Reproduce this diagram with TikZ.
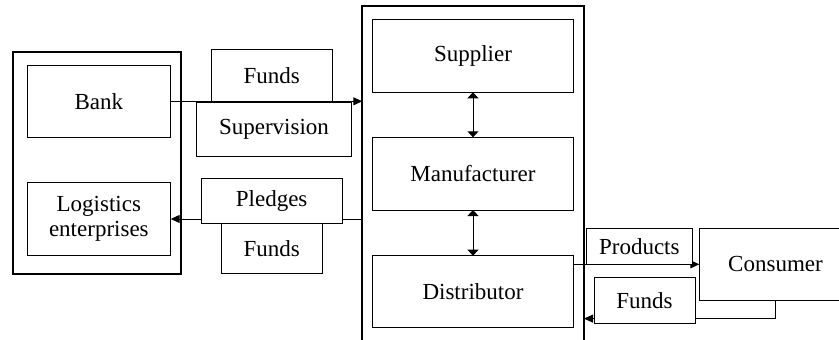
\documentclass[tikz,border=0pt]{standalone}
\usepackage{fontspec}
\setmainfont{Liberation Serif}
\usetikzlibrary{arrows.meta}
\begin{document}
\begin{tikzpicture}[x=1pt,y=-1pt,
  box/.style={draw, line width=1pt, fill=white, inner sep=0pt, outer sep=0pt,
    align=center, font=\fontsize{23}{25}\selectfont},
  frame/.style={draw, line width=2pt, inner sep=0pt, outer sep=0pt},
  link/.style={line width=1pt},
  harrow/.style={-{Triangle[length=9pt,width=8pt]}},
  vdouble/.style={{Triangle[length=6pt,width=11pt]}-{Triangle[length=6pt,width=11pt]}}
]
\useasboundingbox (0,0) rectangle (839,340);
\clip (0,0) rectangle (839,340);

% grouping frames
\node[frame, minimum width=168.3, minimum height=222.3] (left) at (96.85,162.85) {};
\node[frame, minimum width=221.7, minimum height=344] (mid) at (473.15,178) {};

% connectors (drawn under the boxes)
\node[box, draw=none, fill=none, minimum width=143.7, minimum height=72] (bankpos) at (98.85,101.3) {};
\node[box, draw=none, fill=none, minimum width=143.7, minimum height=72.6] (logpos) at (98.85,219) {};
\node[box, draw=none, fill=none, minimum width=201.4, minimum height=72] (distpos) at (473,291.7) {};
\node[box, draw=none, fill=none, minimum width=152.4, minimum height=72] (conspos) at (775.5,264.3) {};
\coordinate (fundsin) at (584,318.6);

\draw[link, harrow] (bankpos.east) -- (bankpos.east -| mid.west);
\draw[link, harrow] (logpos.east -| mid.west) -- (logpos.east);
\draw[link, harrow] (conspos.west -| distpos.east) -- (conspos.west);
\draw[link, harrow] (conspos.south) |- (fundsin);

% left group
\node[box, minimum width=143.7, minimum height=72] (bank) at (98.85,101.3) {Bank};
\node[box, minimum width=143.7, minimum height=72.6] (logistics) at (98.85,219) {Logistics\\enterprises};

% flow labels between the groups
\node[box, minimum width=121.3, minimum height=52] (fundsA) at (271.65,75.3) {Funds};
\node[box, minimum width=154.6, minimum height=54] (supervision) at (274,129) {Supervision};
\node[box, minimum width=141.3, minimum height=45] (pledges) at (271.65,200.8) {Pledges};
\node[box, minimum width=101.3, minimum height=50] (fundsB) at (271.65,248.3) {Funds};

% supply chain group
\node[box, minimum width=201.4, minimum height=72.6] (supplier) at (473,56) {Supplier};
\node[box, minimum width=201.4, minimum height=72.7] (manufacturer) at (473,173.65) {Manufacturer};
\node[box, minimum width=201.4, minimum height=72] (distributor) at (473,291.7) {Distributor};

\draw[link, vdouble] (supplier.south) -- (manufacturer.north);
\draw[link, vdouble] (manufacturer.south) -- (distributor.north);

% consumer side
\node[box, minimum width=106, minimum height=36] (products) at (639.3,246.3) {Products};
\node[box, minimum width=152.4, minimum height=72] (consumer) at (775.5,264.3) {Consumer};
\node[box, minimum width=101, minimum height=45.3] (fundsC) at (644.5,300.35) {Funds};
\end{tikzpicture}
\end{document}
